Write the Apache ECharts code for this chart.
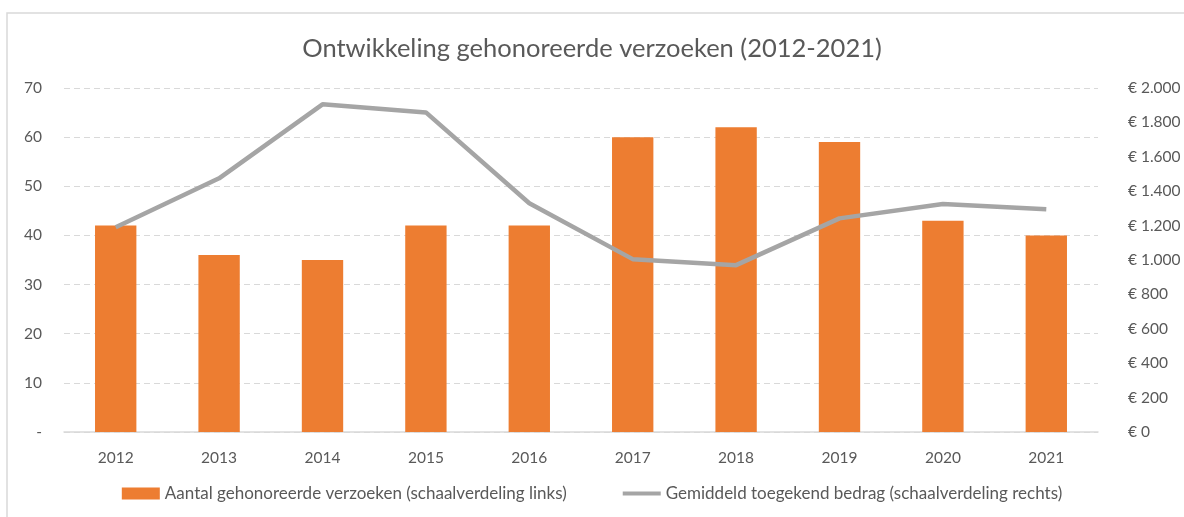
<!DOCTYPE html>
<html>
<head>
<meta charset="utf-8">
<script src="https://cdn.jsdelivr.net/npm/echarts@6/dist/echarts.min.js"></script>
<style>
html, body { margin: 0; padding: 0; background: #fff; }
#chart { width: 1184px; height: 517px; }
</style>
</head>
<body>
<div id="chart"></div>
<script>
var years = ["2012", "2013", "2014", "2015", "2016", "2017", "2018", "2019", "2020", "2021"];
var aantal = [42, 36, 35, 42, 42, 60, 62, 59, 43, 40];
var bedrag = [1190, 1475, 1905, 1858, 1330, 1005, 970, 1242, 1325, 1295];
var barName = "Aantal gehonoreerde verzoeken (schaalverdeling links)";
var lineName = "Gemiddeld toegekend bedrag (schaalverdeling rechts)";

var font = "Lato, 'Open Sans', sans-serif";
var txt = "#595959";

function euro(v) {
    return "€ " + String(v).replace(/\B(?=(\d{3})+(?!\d))/g, ".");
}

var chart = echarts.init(document.getElementById("chart"));
chart.setOption({
    animation: false,
    textStyle: { fontFamily: font },
    graphic: [{
        type: "rect",
        shape: { x: 7, y: 13, width: 1200, height: 520 },
        style: { fill: "none", stroke: "#d9d9d9", lineWidth: 1.5 },
        silent: true
    }],
    title: {
        text: "Ontwikkeling gehonoreerde verzoeken (2012-2021)",
        left: "center",
        top: 31,
        textStyle: { color: txt, fontSize: 25.5, fontWeight: "normal", fontFamily: font }
    },
    grid: { left: 64, right: 86, top: 88, bottom: 85 },
    legend: {
        bottom: 10,
        left: "center",
        itemGap: 56,
        itemWidth: 38,
        itemHeight: 12,
        textStyle: { color: txt, fontSize: 17, fontFamily: font },
        data: [
            { name: barName, icon: "rect" },
            { name: lineName, icon: "path://M0,4 L40,4 L40,8 L0,8 Z" }
        ]
    },
    xAxis: {
        type: "category",
        data: years,
        axisTick: { show: false },
        axisLine: { lineStyle: { color: "#d9d9d9", width: 1.5 } },
        axisLabel: { color: txt, fontSize: 15.5, margin: 18 }
    },
    yAxis: [{
        type: "value",
        min: 0,
        max: 70,
        interval: 10,
        axisLine: { show: false },
        axisTick: { show: false },
        axisLabel: {
            color: txt, fontSize: 15.5, margin: 22,
            formatter: function (v) { return v === 0 ? "-" : v; }
        },
        splitLine: { lineStyle: { color: "#d9d9d9", type: [6, 4], width: 1.2 } }
    }, {
        type: "value",
        min: 0,
        max: 2000,
        interval: 200,
        axisLine: { show: false },
        axisTick: { show: false },
        axisLabel: { color: txt, fontSize: 15.5, margin: 30, formatter: euro },
        splitLine: { show: false }
    }],
    series: [{
        name: barName,
        type: "bar",
        data: aantal,
        barWidth: "40%",
        itemStyle: { color: "#ED7D31" }
    }, {
        name: lineName,
        type: "line",
        yAxisIndex: 1,
        data: bedrag,
        symbol: "none",
        lineStyle: { color: "#A5A5A5", width: 4.5 },
        itemStyle: { color: "#A5A5A5" }
    }]
});
</script>
</body>
</html>
